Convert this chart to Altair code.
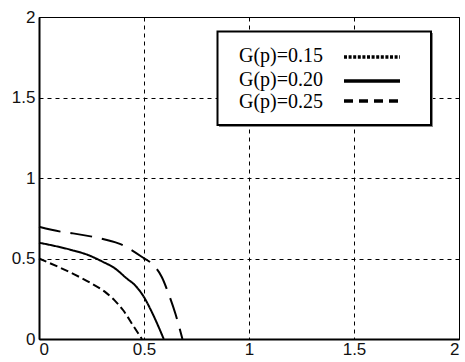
import altair as alt
import pandas as pd

series = ["G(p)=0.15", "G(p)=0.20", "G(p)=0.25"]

x15 = [0.0, 0.09, 0.17, 0.249, 0.313, 0.36, 0.40, 0.445, 0.49]
y15 = [0.50, 0.449, 0.40, 0.346, 0.294, 0.24, 0.18, 0.09, 0.0]
x20 = [0.0, 0.154, 0.233, 0.30, 0.36, 0.417, 0.46, 0.50, 0.54, 0.594]
y20 = [0.598, 0.553, 0.522, 0.482, 0.440, 0.377, 0.33, 0.26, 0.16, 0.0]
x25 = [0.0, 0.106, 0.162, 0.337, 0.378, 0.489, 0.552, 0.584, 0.62, 0.65, 0.683]
y25 = [0.697, 0.666, 0.656, 0.61, 0.594, 0.511, 0.449, 0.387, 0.27, 0.155, 0.0]

ticks = [0, 0.5, 1, 1.5, 2]

rows = []
for name, xs, ys in zip(series, [x15, x20, x25], [y15, y20, y25]):
    for i, (a, b) in enumerate(zip(xs, ys)):
        rows.append({"series": name, "x": a, "y": b, "order": i})
df = pd.DataFrame(rows)

W, H = 420, 322

xscale = alt.Scale(domain=[0, 2], nice=False)
yscale = alt.Scale(domain=[0, 2], nice=False)

axis_common = dict(
    values=ticks,
    grid=True,
    gridColor="black",
    gridDash=[4, 4],
    gridWidth=1,
    gridOpacity=1,
    domainColor="black",
    domainWidth=2,
    ticks=False,
    labelFont="Liberation Sans",
    labelFontSize=17,
    labelColor="#111111",
    labelExpr="datum.value",
    title=None,
)

curves = alt.Chart(df).mark_line(color="black", strokeWidth=2, interpolate="monotone").encode(
    x=alt.X("x:Q", scale=xscale, axis=alt.Axis(labelPadding=2, **axis_common)),
    y=alt.Y("y:Q", scale=yscale, axis=alt.Axis(labelPadding=4, **axis_common)),
    detail="series:N",
    order="order:Q",
    strokeDash=alt.StrokeDash(
        "series:N",
        scale=alt.Scale(domain=series, range=[[8, 4], [1, 0], [22, 10]]),
        legend=None,
    ),
)

# manual legend box (MATLAB style)
shadow = alt.Chart(pd.DataFrame({"a": [0]})).mark_rect(
    fill="#888888", stroke=None
).encode(x=alt.value(180), x2=alt.value(394), y=alt.value(16), y2=alt.value(110))

box = alt.Chart(pd.DataFrame({"a": [0]})).mark_rect(
    fill="white", stroke="black", strokeWidth=2
).encode(x=alt.value(178.5), x2=alt.value(392), y=alt.value(14.5), y2=alt.value(108))

ys_text = [39, 63, 85]
tdf = pd.DataFrame({"series": series, "ty": ys_text})

texts = alt.Chart(tdf).mark_text(
    align="left", baseline="middle", font="Liberation Serif", fontSize=20, color="black"
).encode(
    x=alt.value(200),
    y=alt.Y("ty:Q", scale=alt.Scale(domain=[0, H], range=[0, H]), axis=None),
    text="series:N",
)

sym_y = [40, 64, 84]
sym_dash = [[3, 1.6], [1, 0], [9, 6]]
sym_layers = []
for yy, dash in zip(sym_y, sym_dash):
    sym_layers.append(
        alt.Chart(pd.DataFrame({"a": [0]})).mark_rule(
            color="black", strokeWidth=3.5, strokeDash=dash
        ).encode(x=alt.value(305), x2=alt.value(361), y=alt.value(yy))
    )

chart = alt.layer(curves, shadow, box, texts, *sym_layers).resolve_scale(
    y="independent"
).properties(
    width=W,
    height=H,
    padding={"left": 39, "top": 17, "right": 6, "bottom": 23},
    autosize=alt.AutoSizeParams(type="none"),
    background="white",
).configure_view(stroke="black", strokeWidth=1)

chart.save("out.html", embed_options={"renderer": "svg", "actions": False})
